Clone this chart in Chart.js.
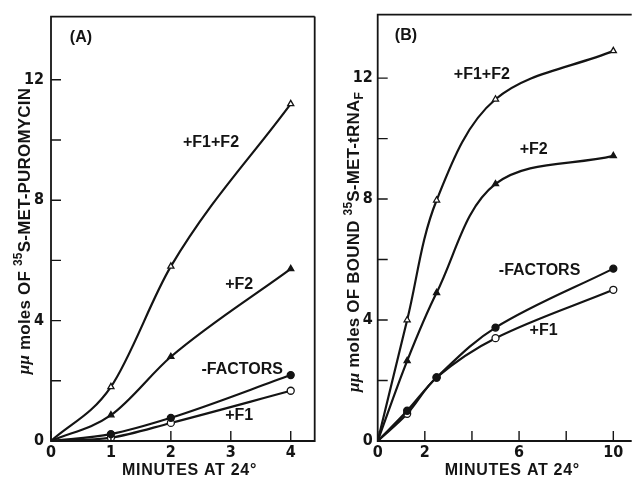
<!DOCTYPE html>
<html>
<head>
<meta charset="utf-8">
<script src="https://cdn.jsdelivr.net/npm/chart.js@4.4.1/dist/chart.umd.min.js"></script>
<style>
  html, body { margin: 0; padding: 0; background: #fff; overflow: hidden; }
  #wrap { position: relative; width: 637px; height: 480px; background: #fff; }
  .panel { position: absolute; top: 0; }
  #panelA { left: 0; }
  #panelB { left: 320px; }
</style>
</head>
<body>
<div id="wrap">
  <div class="panel" id="panelA"><canvas id="chartA" width="320" height="480"></canvas></div>
  <div class="panel" id="panelB"><canvas id="chartB" width="317" height="480"></canvas></div>
</div>
<script>
// Panel A: puromycin reaction
const minutesA = [0, 1, 2, 4];
const f1f2A = [0, 1.8, 5.8, 11.2];
const f2A = [0, 0.86, 2.8, 5.72];
const noFactorsA = [0, 0.23, 0.77, 2.19];
const f1A = [0, 0.11, 0.6, 1.67];

// Panel B: bound fMet-tRNA
const minutesB = [0, 1.25, 2.5, 5, 10];
const f1f2B = [0, 4.0, 7.96, 11.3, 12.9];
const f2B = [0, 2.65, 4.9, 8.5, 9.43];
const noFactorsB = [0, 1.0, 2.1, 3.75, 5.7];
const f1B = [0, 0.9, 2.1, 3.4, 5.0];

// Axis ticks
const yTicks = [0, 2, 4, 6, 8, 10, 12];
const yLabels = [0, 4, 8, 12];
const xTicksA = [0, 1, 2, 3, 4];
const xLabelsA = [0, 1, 2, 3, 4];
const xTicksB = [0, 2, 4, 6, 8, 10];
const xLabelsB = [0, 2, 6, 10];

// Curve labels, in data units
const curveLabelsA = [
  { text: '(A)', x: 0.5, y: 13.4 },
  { text: '+F1+F2', x: 2.67, y: 9.9 },
  { text: '+F2', x: 3.14, y: 5.2 },
  { text: '-FACTORS', x: 3.19, y: 2.38 },
  { text: '+F1', x: 3.14, y: 0.83 }
];
const curveLabelsB = [
  { text: '(B)', x: 1.2, y: 13.4 },
  { text: '+F1+F2', x: 4.42, y: 12.1 },
  { text: '+F2', x: 6.62, y: 9.64 },
  { text: '-FACTORS', x: 6.87, y: 5.64 },
  { text: '+F1', x: 7.04, y: 3.66 }
];

const ink = '#141414';
const tickFont = { family: "'Liberation Sans Narrow', 'DejaVu Sans Condensed', sans-serif", size: 16, weight: 'bold' };
const textFont = "bold 16px 'Liberation Sans', Arial, sans-serif";
const titleFont = "bold 17px 'Liberation Sans', Arial, sans-serif";

function pairs(xs, ys) {
  return xs.map((x, i) => ({ x: x, y: ys[i] }));
}

function series(xs, ys, style, open, smooth) {
  const ds = {
    data: pairs(xs, ys),
    borderColor: ink,
    borderWidth: 2.2,
    pointStyle: style,
    pointRadius: xs.map(x => x === 0 ? 0 : 3.5),
    pointBackgroundColor: open ? '#fff' : ink,
    pointBorderColor: ink,
    pointBorderWidth: 1.3,
    fill: false
  };
  if (smooth === 'monotone') ds.cubicInterpolationMode = 'monotone';
  else ds.tension = smooth;
  return ds;
}

// Frame, inward ticks, curve labels and rotated y title
const decorations = {
  id: 'decorations',
  afterDraw(chart, args, opts) {
    const { ctx, chartArea: a, scales: { x, y } } = chart;
    ctx.save();
    ctx.strokeStyle = ink;
    ctx.lineWidth = 1.8;
    ctx.beginPath();
    ctx.moveTo(a.right, a.top);
    ctx.lineTo(a.left, a.top);
    ctx.lineTo(a.left, a.bottom);
    ctx.lineTo(a.right, a.bottom);
    if (opts.closed) ctx.lineTo(a.right, a.top);
    ctx.stroke();

    ctx.lineWidth = 1.4;
    ctx.beginPath();
    yTicks.forEach(v => {
      const py = y.getPixelForValue(v);
      ctx.moveTo(a.left, py);
      ctx.lineTo(a.left + 10, py);
    });
    opts.xTicks.forEach(v => {
      const px = x.getPixelForValue(v);
      ctx.moveTo(px, a.bottom);
      ctx.lineTo(px, a.bottom - 10);
    });
    ctx.stroke();

    ctx.fillStyle = ink;
    ctx.font = textFont;
    ctx.textAlign = 'center';
    ctx.textBaseline = 'middle';
    opts.labels.forEach(l => {
      ctx.fillText(l.text, x.getPixelForValue(l.x), y.getPixelForValue(l.y));
    });

    // x title
    ctx.letterSpacing = '0.7px';
    ctx.fillText('MINUTES AT 24°', (a.left + opts.titleRight) / 2, 471);

    // y title, rotated, with superscript / subscript parts
    ctx.letterSpacing = '0.2px';
    ctx.translate(a.left + opts.yTitleDx, opts.yTitleCy);
    ctx.rotate(-Math.PI / 2);
    const parts = opts.yTitle;
    const fontFor = p => p.greek ? "italic bold 17px 'Liberation Serif', serif"
      : (p.sup || p.sub) ? "bold 12px 'Liberation Sans', Arial, sans-serif" : titleFont;
    let total = 0;
    parts.forEach(p => { ctx.font = fontFor(p); total += ctx.measureText(p.t).width; });
    let cx = -total / 2;
    ctx.textAlign = 'left';
    parts.forEach(p => {
      ctx.font = fontFor(p);
      const dy = p.sup ? -6 : p.sub ? 5 : 0;
      ctx.fillText(p.t, cx, dy);
      cx += ctx.measureText(p.t).width;
    });
    ctx.restore();
  }
};

function makeChart(id, cfg) {
  return new Chart(document.getElementById(id), {
    type: 'line',
    data: { datasets: cfg.datasets },
    options: {
      responsive: false,
      animation: false,
      devicePixelRatio: 1,
      layout: { padding: { top: 13, right: cfg.padRight, left: 0, bottom: 0 } },
      plugins: {
        legend: { display: false },
        tooltip: { enabled: false },
        decorations: {
          closed: cfg.closed,
          xTicks: cfg.xTicks,
          labels: cfg.labels,
          yTitle: cfg.yTitle,
          yTitleDx: cfg.yTitleDx,
          yTitleCy: cfg.yTitleCy,
          titleRight: cfg.titleRight
        }
      },
      scales: {
        x: {
          type: 'linear',
          min: 0,
          max: cfg.xMax,
          afterFit: s => { s.height = 39; },
          afterBuildTicks: s => { s.ticks = cfg.xTicks.map(v => ({ value: v })); },
          grid: { display: false, drawTicks: false },
          border: { display: false },
          ticks: {
            padding: 2,
            color: ink,
            font: tickFont,
            maxRotation: 0,
            autoSkip: false,
            callback: v => cfg.xLabels.includes(v) ? String(v) : ''
          }
        },
        y: {
          type: 'linear',
          min: 0,
          max: 14.1,
          afterFit: s => { s.width = cfg.yWidth; },
          afterBuildTicks: s => { s.ticks = yTicks.map(v => ({ value: v })); },
          grid: { display: false, drawTicks: false },
          border: { display: false },
          ticks: {
            padding: cfg.yPad,
            color: ink,
            font: tickFont,
            autoSkip: false,
            callback: v => yLabels.includes(v) ? String(v) : ''
          }
        }
      }
    },
    plugins: [decorations]
  });
}

makeChart('chartA', {
  datasets: [
    series(minutesA, f1f2A, 'triangle', true, 'monotone'),
    series(minutesA, f2A, 'triangle', false, 'monotone'),
    series(minutesA, noFactorsA, 'circle', false, 'monotone'),
    series(minutesA, f1A, 'circle', true, 'monotone')
  ],
  xMax: 4.4,
  padRight: 4,
  yWidth: 51,
  yPad: 7,
  closed: true,
  xTicks: xTicksA,
  xLabels: xLabelsA,
  labels: curveLabelsA,
  titleRight: 328,
  yTitleDx: -26,
  yTitleCy: 231,
  yTitle: [
    { t: 'μμ', greek: true },
    { t: ' moles OF ' },
    { t: '35', sup: true },
    { t: 'S-MET-PUROMYCIN' }
  ]
});

makeChart('chartB', {
  datasets: [
    series(minutesB, f1f2B, 'triangle', true, 0.35),
    series(minutesB, f2B, 'triangle', false, 0.35),
    series(minutesB, noFactorsB, 'circle', false, 0.35),
    series(minutesB, f1B, 'circle', true, 0.35)
  ],
  xMax: 10.78,
  padRight: 0,
  yWidth: 57.7,
  yPad: 5,
  closed: false,
  xTicks: xTicksB,
  xLabels: xLabelsB,
  labels: curveLabelsB,
  titleRight: 327,
  yTitleDx: -23,
  yTitleCy: 242,
  yTitle: [
    { t: 'μμ', greek: true },
    { t: ' moles OF BOUND ' },
    { t: '35', sup: true },
    { t: 'S-MET-tRNA' },
    { t: 'F', sub: true }
  ]
});
</script>
</body>
</html>
